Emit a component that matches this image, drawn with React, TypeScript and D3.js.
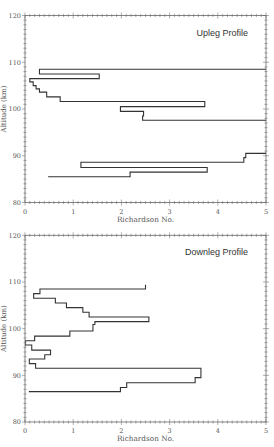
import React, { useEffect, useRef } from 'react';
import * as d3 from 'd3';

// Upleg profile: Richardson number per altitude step (km)
const upRi = [5.6, 0.3, 1.54, 0.1, 0.17, 0.23, 0.3, 0.45, 0.73, 3.73, 1.98, 2.46, 2.44, 5.6, 4.58, 4.54, 1.16, 3.78, 2.18, 0.48];
const upAlt = [108.5, 107.5, 106.5, 105.8, 105.0, 104.3, 103.6, 102.6, 101.6, 100.5, 99.5, 98.5, 97.6, 90.5, 89.6, 88.6, 87.5, 86.5, 85.5, 85.5];

// Downleg profile
const downRi = [2.5, 2.5, 0.31, 0.18, 0.63, 0.86, 1.2, 1.33, 2.57, 1.45, 1.41, 0.93, 0.2, 0.0, 0.14, 0.53, 0.41, 0.09, 0.22, 3.65, 3.53, 2.11, 1.98, 0.08];
const downAlt = [109.4, 108.5, 107.5, 106.5, 105.5, 104.5, 103.5, 102.5, 101.5, 100.9, 99.5, 98.4, 97.4, 96.5, 95.4, 94.4, 93.5, 92.5, 91.5, 89.5, 88.4, 87.4, 86.5, 86.5];

const xTicks = [0, 1, 2, 3, 4, 5];
const yTicks = [80, 90, 100, 110, 120];

const W = 274;
const H = 447;
const left = 25;
const right = 266;

export default function App() {
  const svgRef = useRef<SVGSVGElement>(null);

  useEffect(() => {
    if (!svgRef.current) return;
    const svg = d3.select(svgRef.current);
    svg.selectAll('*').remove();

    const x = d3.scaleLinear().domain([0, 5]).range([left, right]);

    const panels = [
      { ri: upRi, alt: upAlt, top: 15.5, bottom: 202.5, title: 'Upleg Profile', id: 'up' },
      { ri: downRi, alt: downAlt, top: 235.3, bottom: 422, title: 'Downleg Profile', id: 'down' },
    ];

    panels.forEach(p => {
      const y = d3.scaleLinear().domain([80, 120]).range([p.bottom, p.top]);
      const g = svg.append('g');

      g.append('clipPath').attr('id', `clip-${p.id}`)
        .append('rect').attr('x', left).attr('y', p.top).attr('width', right - left).attr('height', p.bottom - p.top);

      // minor ticks x (every 0.1) on top and bottom
      d3.range(0, 50.5).map(i => i / 10).forEach(v => {
        const major = Math.abs(v - Math.round(v)) < 1e-6;
        const len = major ? 3 : 1.6;
        g.append('line').attr('x1', x(v)).attr('x2', x(v)).attr('y1', p.bottom - len).attr('y2', p.bottom + len)
          .attr('stroke', '#777').attr('stroke-width', 0.6);
        g.append('line').attr('x1', x(v)).attr('x2', x(v)).attr('y1', p.top - len).attr('y2', p.top + len)
          .attr('stroke', '#777').attr('stroke-width', 0.6);
      });
      // minor ticks y (every 1 km) on left and right
      d3.range(80, 121).forEach(v => {
        const major = v % 10 === 0;
        const len = major ? 3 : 1.6;
        g.append('line').attr('x1', left - len).attr('x2', left + (major ? 0 : len)).attr('y1', y(v)).attr('y2', y(v))
          .attr('stroke', '#777').attr('stroke-width', 0.6);
        g.append('line').attr('x1', right - len).attr('x2', right + len).attr('y1', y(v)).attr('y2', y(v))
          .attr('stroke', '#777').attr('stroke-width', 0.6);
      });

      g.append('rect').attr('x', left).attr('y', p.top).attr('width', right - left).attr('height', p.bottom - p.top)
        .attr('fill', 'none').attr('stroke', '#666').attr('stroke-width', 0.8);

      yTicks.forEach(t => {
        g.append('text').attr('x', left - 4).attr('y', y(t)).attr('dy', '0.35em').attr('text-anchor', 'end')
          .attr('font-family', 'DejaVu Serif').attr('font-size', '6.5px').attr('fill', '#555').text(t);
      });
      xTicks.forEach(t => {
        g.append('text').attr('x', x(t)).attr('y', p.bottom + 9).attr('dy', '0.35em').attr('text-anchor', 'middle')
          .attr('font-family', 'DejaVu Serif').attr('font-size', '6.5px').attr('fill', '#555').text(t);
      });

      g.append('text').attr('x', (left + right) / 2).attr('y', p.bottom + 16.8).attr('dy', '0.35em').attr('text-anchor', 'middle')
        .attr('font-family', 'DejaVu Serif').attr('font-size', '7.3px').attr('fill', '#555').text('Richardson No.');

      g.append('text').attr('transform', `translate(4,${(p.top + p.bottom) / 2}) rotate(-90)`).attr('dy', '0.35em')
        .attr('text-anchor', 'middle').attr('font-family', 'DejaVu Serif').attr('font-size', '7px').attr('fill', '#555')
        .text('Altitude (km)');

      g.append('text').attr('x', 248).attr('y', p.top + 20).attr('text-anchor', 'end')
        .attr('font-family', 'Liberation Sans').attr('font-size', '9px').attr('fill', '#333').text(p.title);

      const pts: [number, number][] = p.ri.map((r, i) => [r, p.alt[i]]);
      const line = d3.line<[number, number]>()
        .x(d => x(d[0]))
        .y(d => y(d[1]))
        .curve(d3.curveStepAfter);
      g.append('path').attr('d', line(pts)).attr('fill', 'none').attr('stroke', '#333').attr('stroke-width', 1.1)
        .attr('clip-path', `url(#clip-${p.id})`);
    });
  }, []);

  return (
    <div style={{ position: 'absolute', left: 0, top: 0, width: W, height: H, background: '#fff' }}>
      <svg ref={svgRef} width={W} height={H} />
    </div>
  );
}
